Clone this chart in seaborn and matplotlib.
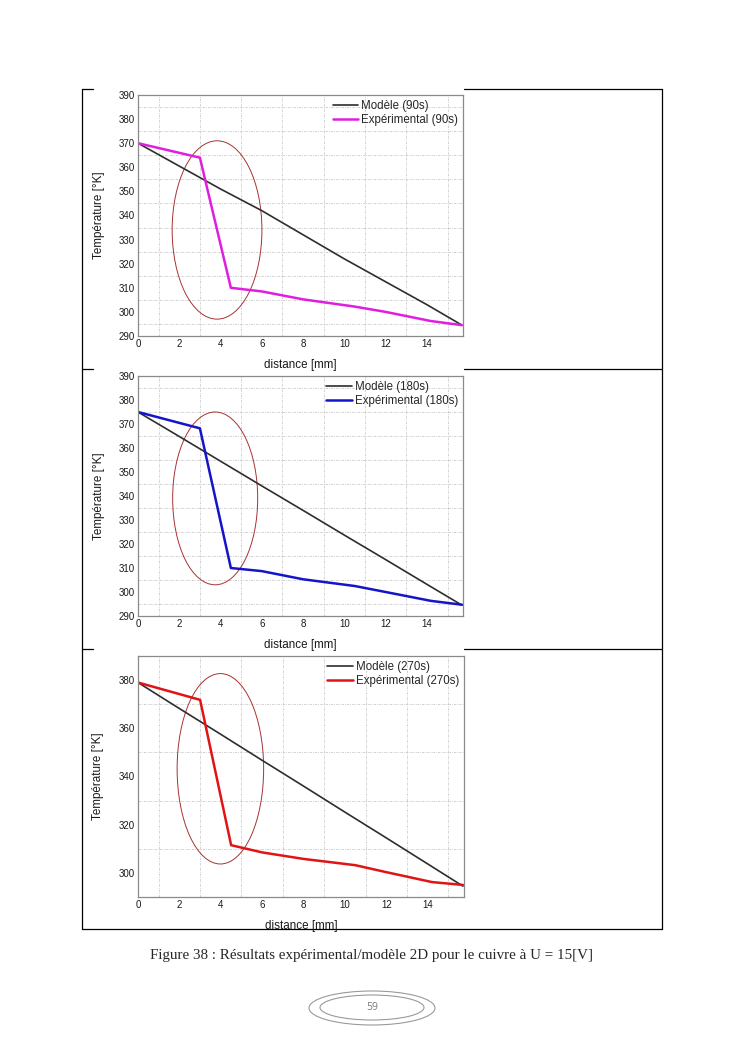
import numpy as np
import pandas as pd
import matplotlib.pyplot as plt
import seaborn as sns
from matplotlib.patches import Ellipse
from matplotlib.ticker import MultipleLocator

sns.set_style("white")
plt.rcParams["font.family"] = ["Liberation Sans", "DejaVu Sans"]

# distances [mm]
dist_model = [0, 2, 4, 6, 8, 10, 12, 14, 15.7]
dist_exp = [0, 3, 4.5, 6, 8, 10.5, 12, 14.2, 15.7]

# temperatures [K]
model_90 = [370, 360.5, 351, 342, 332, 322, 312.5, 303, 294.5]
exp_90 = [370, 364, 310, 308.5, 305.2, 302.2, 300, 296.2, 294.5]
model_180 = [375, 364.8, 354.5, 344.2, 334, 323.7, 313.5, 303.2, 294.5]
exp_180 = [375, 368.2, 310, 308.7, 305.3, 302.5, 300, 296.3, 294.7]
model_270 = [379, 368.2, 357.5, 346.7, 336, 325.2, 314.5, 303.7, 294.5]
exp_270 = [379, 371.8, 311.5, 308.5, 305.8, 303.2, 300.3, 296.2, 295]

times = ["90s", "180s", "270s"]
exp_colors = ["#e01ee0", "#1414c8", "#e01414"]
model_color = "#2e2e2e"

# ellipse (center x, center y, width, height) per panel, data units
ellipses = [(3.83, 334, 4.35, 74), (3.74, 339, 4.12, 72), (3.98, 343.2, 4.18, 79)]
y_major = [10, 10, 20]

# axes boxes in pixels: left, top, right, bottom
W, H = 745, 1053
boxes = [(138, 95, 463, 336), (138, 376, 463, 616), (138, 656, 464, 897)]

fig = plt.figure(figsize=(W / 100, H / 100), dpi=100)

bg = fig.add_axes([0, 0, 1, 1])
bg.set_xlim(0, W)
bg.set_ylim(H, 0)
bg.axis("off")

# page table lines
lc = dict(color="black", lw=0.9)
bg.plot([82, 82], [89, 929], **lc)
bg.plot([662, 662], [89, 929], **lc)
bg.plot([82, 662], [929, 929], **lc)
for yy in [89, 369, 649]:
    bg.plot([82, 93], [yy, yy], **lc)
    bg.plot([464, 662], [yy, yy], **lc)

bg.text(372, 955, "Figure 38 : Résultats expérimental/modèle 2D pour le cuivre à U = 15[V]",
        family=["Liberation Serif", "DejaVu Serif"], fontsize=10.8,
        ha="center", va="center")
bg.add_patch(Ellipse((372, 1008), 126, 34, fill=False, edgecolor="#9a9a9a", lw=0.8))
bg.add_patch(Ellipse((372, 1007.5), 104, 25, fill=False, edgecolor="#9a9a9a", lw=0.8))
bg.text(372, 1008, "59", fontsize=7.5, color="#7a7a7a", ha="center", va="center",
        family=["Open Sans", "DejaVu Sans"])

series = [(model_90, exp_90), (model_180, exp_180), (model_270, exp_270)]

for i, (mod, exp) in enumerate(series):
    l, t, r, b = boxes[i]
    ax = fig.add_axes([l / W, 1 - b / H, (r - l) / W, (b - t) / H])
    sns.lineplot(x=dist_model, y=mod, ax=ax, color=model_color, lw=1.2,
                 label=f"Modèle ({times[i]})")
    sns.lineplot(x=dist_exp, y=exp, ax=ax, color=exp_colors[i], lw=1.8,
                 label=f"Expérimental ({times[i]})")
    cx, cy, ew, eh = ellipses[i]
    ax.add_patch(Ellipse((cx, cy), ew, eh, fill=False, edgecolor="#a83232", lw=0.7))

    ax.set_xlim(0, 15.75)
    ax.set_ylim(290, 390)
    ax.xaxis.set_major_locator(MultipleLocator(2))
    ax.xaxis.set_minor_locator(MultipleLocator(1))
    ax.yaxis.set_major_locator(MultipleLocator(y_major[i]))
    ax.yaxis.set_minor_locator(MultipleLocator(y_major[i] / 2))
    ax.grid(False)
    ax.grid(which="minor", color="#c4c4c4", ls=(0, (3, 1.5, 1, 1.5)), lw=0.55)
    ax.tick_params(which="both", direction="in", labelsize=7, colors="#555555",
                   labelcolor="#1a1a1a", pad=2.5)
    ax.tick_params(which="major", length=3, width=0.6)
    ax.tick_params(which="minor", length=2, width=0.5)
    for s in ax.spines.values():
        s.set_color("#8a8a8a")
        s.set_linewidth(0.9)

    ax.set_xlabel("distance [mm]", fontsize=8.4, color="#1a1a1a")
    ax.set_ylabel("Température [°K]", fontsize=8.4, color="#1a1a1a")
    ax.xaxis.set_label_coords(0.5, -0.095)
    ax.yaxis.set_label_coords(-0.103, 0.5)

    ax.legend(loc="upper right", frameon=False, fontsize=8.3, handlelength=2.2,
              handletextpad=0.25, labelspacing=0.2, borderaxespad=0.05)

fig.savefig("out.png", dpi=100)
